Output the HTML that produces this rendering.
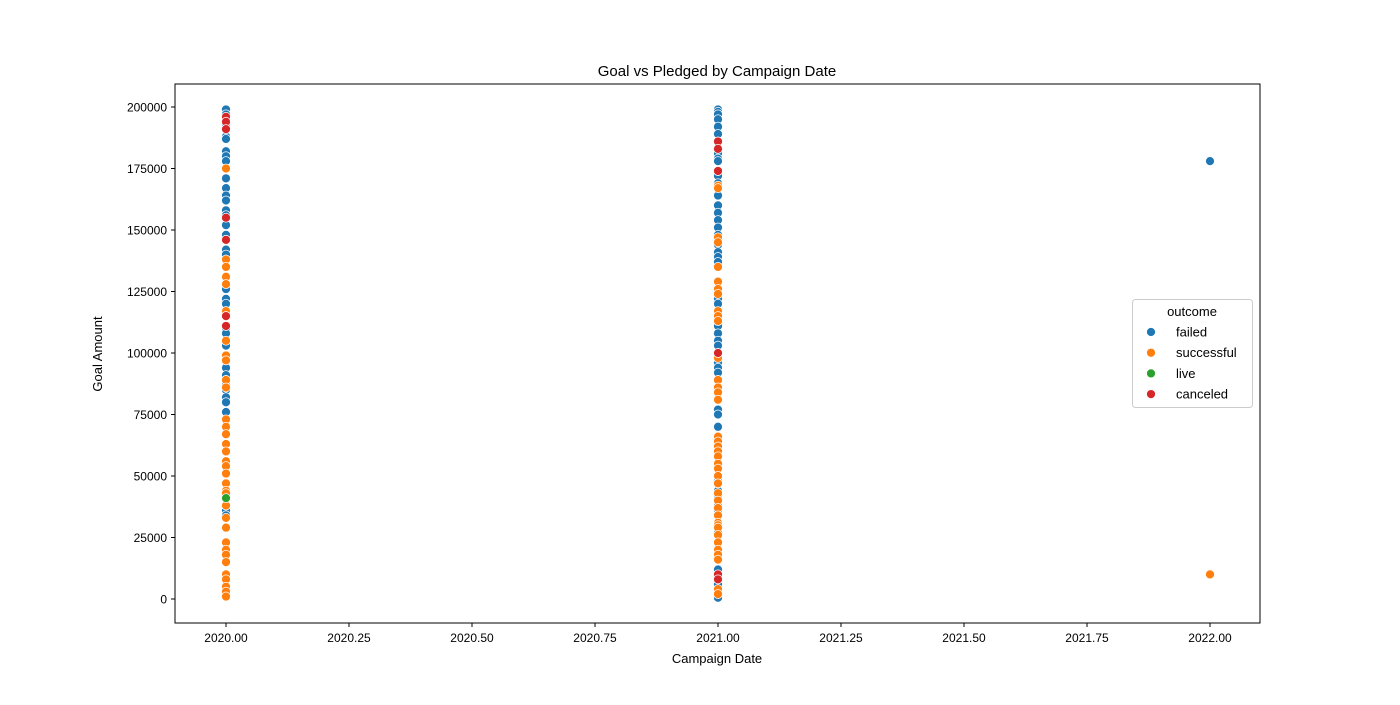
<!DOCTYPE html>
<html><head><meta charset="utf-8"><style>
body{margin:0;background:#fff;}
text{font-family:"Liberation Sans","DejaVu Sans",sans-serif;fill:#000;}
</style></head><body>
<svg id="chart" width="1400" height="700" xmlns="http://www.w3.org/2000/svg">
<rect width="1400" height="700" fill="#fff"/>
<text x="717" y="76" font-size="15" text-anchor="middle">Goal vs Pledged by Campaign Date</text>
<text x="717" y="663" font-size="13" text-anchor="middle">Campaign Date</text>
<text x="102" y="354" font-size="13" text-anchor="middle" transform="rotate(-90 102 354)">Goal Amount</text>
<g id="ticks"></g>
<g id="points"></g>
<rect x="175" y="84" width="1085" height="539" fill="none" stroke="#000" stroke-width="1"/>
<g>
<rect x="1132.5" y="299.5" width="120" height="108" rx="3" fill="#fff" fill-opacity="0.8" stroke="#ccc"/>
<text x="1192" y="316" font-size="13" text-anchor="middle">outcome</text>
<g id="legend-items"></g>
</g>
</svg>
<script>
const xTicks=[2020,2020.25,2020.5,2020.75,2021,2021.25,2021.5,2021.75,2022];
const yTicks=[0,25000,50000,75000,100000,125000,150000,175000,200000];
const categories=["failed","successful","live","canceled"];
const colors=["#1f77b4","#ff7f0e","#2ca02c","#d62728"];
// goal values in thousands, per year per category
const f2020=[199,197,195,193,188,187,182,180,178,171,167,164,162,158,156,152,148,146,142,140,128,126,122,120,117,110,108,104,103,94,91,89,87,85,82,80,76,67,38,36,34,1,3,5];
const s2020=[175,138,135,131,128,117,115,105,99,97,89,86,73,70,67,63,60,56,54,51,47,44,43,38,33,29,23,20,18,15,10,8,5,3,1];
const l2020=[41];
const c2020=[196,194,191,155,146,115,111];
const f2021=[199,198,197,195,192,189,186,181,179,178,172,169,164,160,157,154,151,148,145,144,141,139,137,122,120,116,111,108,105,103,100,96,94,92,89,77,75,70,62,48,44,41,38,36,27,12,6,2,0.5];
const s2021=[174,168,167,147,145,135,129,126,124,117,115,113,98,89,86,84,81,66,64,62,60,58,55,53,50,47,43,40,37,34,31,30,29,26,23,20,18,16,4,2];
const l2021=[];
const c2021=[186,183,174,100,10,8];
const f2022=[178];
const s2022=[10];
const series=[[2020,0,f2020],[2020,1,s2020],[2020,2,l2020],[2020,3,c2020],[2021,0,f2021],[2021,1,s2021],[2021,2,l2021],[2021,3,c2021],[2022,0,f2022],[2022,1,s2022]];
const X=v=>226+(v-2020)*492;
const Y=v=>599-v*0.00246;
const NS="http://www.w3.org/2000/svg";
const tg=document.getElementById('ticks');
xTicks.forEach(t=>{
 const l=document.createElementNS(NS,'line');
 l.setAttribute('x1',X(t));l.setAttribute('x2',X(t));l.setAttribute('y1',623);l.setAttribute('y2',627);l.setAttribute('stroke','#000');
 
 
 tg.appendChild(l);
 const tx=document.createElementNS(NS,'text');
 tx.setAttribute('x',X(t));tx.setAttribute('y',642);tx.setAttribute('font-size','12');tx.setAttribute('text-anchor','middle');
 tx.textContent=t.toFixed(2);
 
 
 tg.appendChild(tx);
});
yTicks.forEach(t=>{
 const l=document.createElementNS(NS,'line');
 l.setAttribute('x1',171);l.setAttribute('x2',175);l.setAttribute('y1',Y(t));l.setAttribute('y2',Y(t));l.setAttribute('stroke','#000');
 
 
 tg.appendChild(l);
 const tx=document.createElementNS(NS,'text');
 tx.setAttribute('x',167);tx.setAttribute('y',Y(t)+4.5);tx.setAttribute('font-size','12');tx.setAttribute('text-anchor','end');
 tx.textContent=String(t);
 
 
 tg.appendChild(tx);
});
const pg=document.getElementById('points');
series.forEach(([yr,ci,vals])=>{
 vals.forEach(v=>{
  const c=document.createElementNS(NS,'circle');
  c.setAttribute('cx',X(yr));c.setAttribute('cy',Y(v*1000));c.setAttribute('r',4.5);
  c.setAttribute('fill',colors[ci]);c.setAttribute('stroke','#fff');c.setAttribute('stroke-width','0.75');
  
  
  pg.appendChild(c);
 });
});
const lg=document.getElementById('legend-items');
categories.forEach((cat,i)=>{
 const y=332+i*20.7;
 const c=document.createElementNS(NS,'circle');
 c.setAttribute('cx',1151);c.setAttribute('cy',y);c.setAttribute('r',4.5);c.setAttribute('fill',colors[i]);c.setAttribute('stroke','#fff');c.setAttribute('stroke-width','0.75');
 
 
 lg.appendChild(c);
 const t=document.createElementNS(NS,'text');
 t.setAttribute('x',1176);t.setAttribute('y',y+4.5);t.setAttribute('font-size','13');
 t.textContent=cat;
 
 
 lg.appendChild(t);
});
</script>
</body></html>
